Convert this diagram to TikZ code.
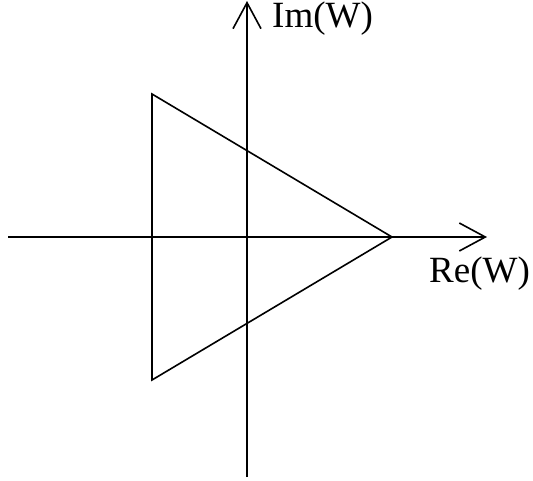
\documentclass[tikz,border=0pt]{standalone}
\usepackage{fontspec}
\setmainfont{Liberation Serif}
\usetikzlibrary{arrows.meta}

\begin{document}
\begin{tikzpicture}[x=1pt,y=-1pt,
    axis/.style={line width=1.6pt,-{Straight Barb[length=26pt,width=28pt,line width=1.6pt]}},
    edge/.style={line width=1.6pt,line join=miter},
    lbl/.style={font=\fontsize{37}{42}\selectfont,inner sep=0pt}]
      \useasboundingbox (0,0) rectangle (533,480);
      % Axes
      \coordinate (xl) at (8,237);
      \coordinate (xr) at (487,237);
      \coordinate (yb) at (247,477);
      \coordinate (yt) at (247,1);
      \draw[axis] (xl) -- (xr);
      \draw[axis] (yb) -- (yt);
      % Triangle
      \coordinate (ta) at (152,94);
      \coordinate (tb) at (152,380);
      \coordinate (tc) at (392,237);
      \draw[edge] (ta) -- (tb) -- (tc) -- cycle;
      % Labels
      \node[lbl,anchor=west] (im) at (272,19) {Im(W)};
      \node[lbl,anchor=west] (re) at (429,274) {Re(W)};
    \end{tikzpicture}
\end{document}
